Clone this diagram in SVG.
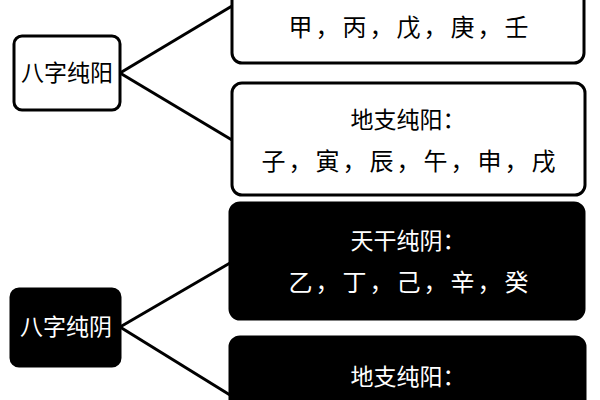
<svg xmlns="http://www.w3.org/2000/svg" width="600" height="400" viewBox="0 0 600 400">
<style>
.w{fill:#fff;stroke:#000;stroke-width:3}
.b{fill:#000;stroke:#000;stroke-width:3}
text{font-family:"Liberation Serif","Noto Sans CJK SC",serif;font-size:23px;text-anchor:middle}
.v{font-size:24px;letter-spacing:3px}
.wt{fill:#fff}
.c line{stroke:#000;stroke-width:3}
</style>
<rect width="600" height="400" fill="#fff"/>
<g class="c">
<line x1="120" y1="73" x2="232" y2="6"/>
<line x1="120" y1="73" x2="232" y2="140"/>
<line x1="120" y1="327" x2="230" y2="263"/>
<line x1="120" y1="327" x2="230" y2="395"/>
</g>
<g id="yang"><rect class="w" x="14" y="36" width="106" height="74" rx="8"/><text x="67" y="81">八字纯阳</text></g>
<g id="tg-yang"><rect class="w" x="232" y="-12" width="352" height="75" rx="10"/><text class="v" x="410" y="36">甲，丙，戊，庚，壬</text></g>
<g id="dz-yang"><rect class="w" x="232" y="83" width="353" height="112" rx="10"/><text x="408" y="128">地支纯阳：</text><text class="v" x="410" y="170">子，寅，辰，午，申，戌</text></g>
<g id="yin"><rect class="b" x="11" y="289" width="109" height="77" rx="8"/><text class="wt" x="66" y="335">八字纯阴</text></g>
<g id="tg-yin"><rect class="b" x="230" y="203" width="354" height="116" rx="10"/><text class="wt" x="408" y="249">天干纯阴：</text><text class="wt v" x="410" y="291">乙，丁，己，辛，癸</text></g>
<g id="dz-yin"><rect class="b" x="230" y="337" width="355" height="80" rx="10"/><text class="wt" x="408" y="385">地支纯阳：</text></g>
</svg>
